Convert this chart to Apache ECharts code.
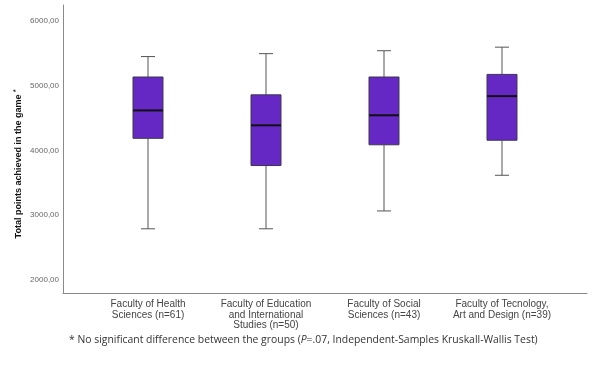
<!DOCTYPE html>
<html>
<head>
<meta charset="utf-8">
<script src="https://cdn.jsdelivr.net/npm/echarts@6/dist/echarts.min.js"></script>
<style>
  html, body { margin: 0; padding: 0; background: #fff; }
  #chart { width: 594px; height: 367px; }
</style>
</head>
<body>
<div id="chart"></div>
<script>
var categories = [
    'Faculty of Health\nSciences (n=61)',
    'Faculty of Education\nand International\nStudies (n=50)',
    'Faculty of Social\nSciences (n=43)',
    'Faculty of Tecnology,\nArt and Design (n=39)'
];
var lowValues = [2790, 2790, 3065, 3615];
var q1Values = [4185, 3765, 4085, 4155];
var medianValues = [4615, 4385, 4540, 4835];
var q3Values = [5130, 4855, 5130, 5170];
var highValues = [5445, 5490, 5535, 5590];
var yTickValues = [2000, 3000, 4000, 5000, 6000];

var boxData = [];
for (var i = 0; i < categories.length; ++i) {
    boxData.push([i, lowValues[i], q1Values[i], medianValues[i], q3Values[i], highValues[i]]);
}

function renderBox(params, api) {
    var x = api.value(0);
    var bw = api.size([1, 0])[0] * 0.254;
    var cap = bw * 0.47;
    var pLow = api.coord([x, api.value(1)]);
    var pQ1 = api.coord([x, api.value(2)]);
    var pMed = api.coord([x, api.value(3)]);
    var pQ3 = api.coord([x, api.value(4)]);
    var pHigh = api.coord([x, api.value(5)]);
    var cx = pLow[0];
    var whisker = { stroke: '#555555', lineWidth: 1 };
    return {
        type: 'group',
        children: [
            { type: 'line', shape: { x1: cx, y1: pLow[1], x2: cx, y2: pQ1[1] }, style: whisker },
            { type: 'line', shape: { x1: cx, y1: pQ3[1], x2: cx, y2: pHigh[1] }, style: whisker },
            { type: 'line', shape: { x1: cx - cap / 2, y1: pLow[1], x2: cx + cap / 2, y2: pLow[1] }, style: whisker },
            { type: 'line', shape: { x1: cx - cap / 2, y1: pHigh[1], x2: cx + cap / 2, y2: pHigh[1] }, style: whisker },
            {
                type: 'rect',
                shape: { x: cx - bw / 2, y: pQ3[1], width: bw, height: pQ1[1] - pQ3[1] },
                style: { fill: '#6628c4', stroke: '#3d3553', lineWidth: 1 }
            },
            { type: 'line', shape: { x1: cx - bw / 2, y1: pMed[1], x2: cx + bw / 2, y2: pMed[1] }, style: { stroke: '#111111', lineWidth: 2 } }
        ]
    };
}

var chart = echarts.init(document.getElementById('chart'));
var option = {
    animation: false,
    grid: [
        { left: 63, right: 7, top: 5, bottom: 74 },
        { left: 89, right: 33, top: 5, bottom: 74 }
    ],
    xAxis: [
        {
            gridIndex: 0, type: 'value', min: 0, max: 1,
            axisLine: { show: true, lineStyle: { color: '#8a8a8a', width: 1 } },
            axisTick: { show: false }, axisLabel: { show: false }, splitLine: { show: false }
        },
        {
            gridIndex: 1, type: 'category', data: categories,
            axisLine: { show: false }, axisTick: { show: false }, splitLine: { show: false },
            axisLabel: {
                color: '#444444', fontFamily: 'Liberation Sans, Arial', fontSize: 10,
                lineHeight: 10.5, margin: 6, interval: 0
            }
        }
    ],
    yAxis: [
        {
            gridIndex: 0, type: 'value', min: 1800, max: 6240,
            name: 'Total points achieved in the game {s|*}',
            nameLocation: 'middle', nameGap: 38, nameMoveOverlap: false,
            nameTextStyle: {
                color: '#111111', fontFamily: 'Liberation Sans, Arial', fontSize: 9, fontWeight: 'bold',
                padding: [0, 30, 0, 0],
                rich: { s: { fontSize: 6.5, verticalAlign: 'top', padding: [0, 0, 5, 0], color: '#111111' } }
            },
            axisLine: { show: true, lineStyle: { color: '#8a8a8a', width: 1 } },
            axisTick: { show: false },
            splitLine: { show: false },
            axisLabel: {
                customValues: yTickValues,
                color: '#666666', fontFamily: 'Liberation Sans, Arial', fontSize: 8, margin: 4,
                formatter: function (v) { return v.toFixed(2).replace('.', ','); }
            }
        },
        {
            gridIndex: 1, type: 'value', min: 1800, max: 6240, show: false
        }
    ],
    title: {
        text: '* No significant difference between the groups ({i|P}=.07, Independent-Samples Kruskall-Wallis Test)',
        left: 69, top: 335, padding: 0,
        textStyle: {
            color: '#333333', fontFamily: 'Open Sans', fontSize: 10.4, fontWeight: 'normal',
            rich: { i: { fontStyle: 'italic', fontFamily: 'Open Sans', fontSize: 10.4, color: '#333333' } }
        }
    },
    series: [
        {
            type: 'custom',
            xAxisIndex: 1, yAxisIndex: 1,
            renderItem: renderBox,
            encode: { x: 0, y: [1, 2, 3, 4, 5] },
            data: boxData
        }
    ]
};
chart.setOption(option);
</script>
</body>
</html>
